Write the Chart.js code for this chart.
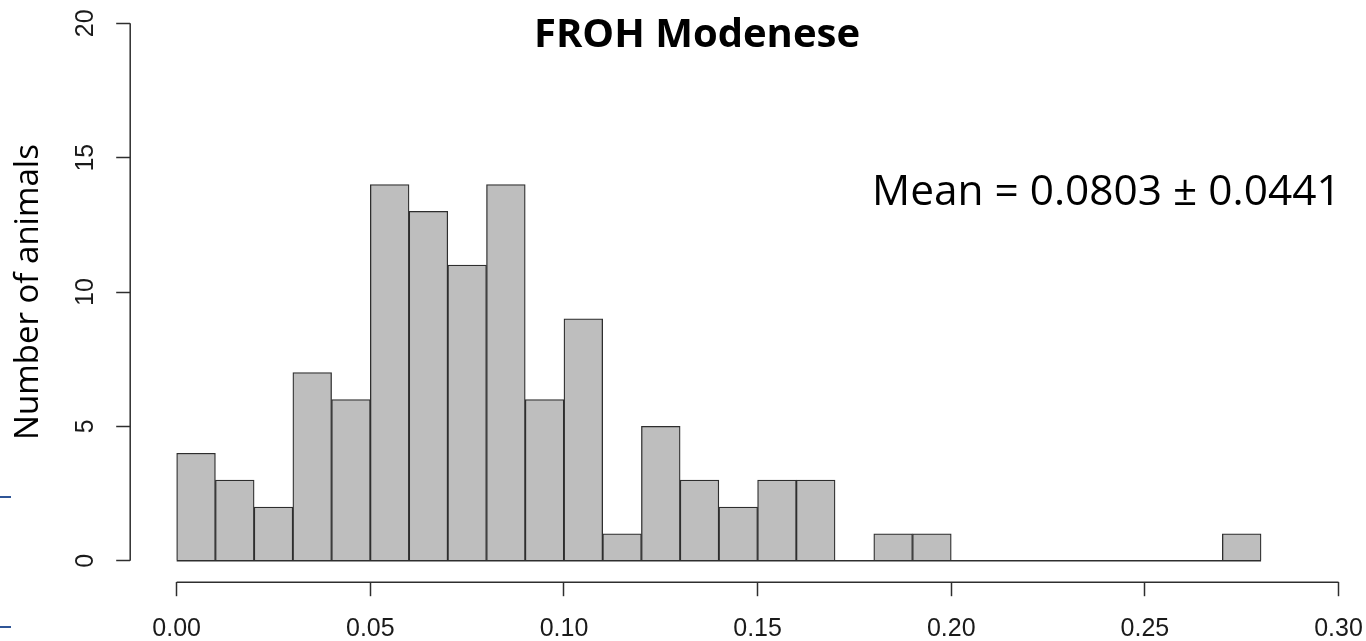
<!DOCTYPE html>
<html>
<head>
<meta charset="utf-8">
<title>FROH Modenese</title>
<script src="https://cdn.jsdelivr.net/npm/chart.js@4.4.1/dist/chart.umd.min.js"></script>
<style>
  html, body { margin: 0; padding: 0; background: #fff; overflow: hidden; }
  #wrap { width: 1385px; height: 641px; position: relative; }
</style>
</head>
<body>
<div id="wrap"><canvas id="frohHist"></canvas></div>
<script>
// histogram bins (left edge of each 0.01 wide class) and number of animals per bin
const binWidth = 0.01;
const binStarts = [0.00, 0.01, 0.02, 0.03, 0.04, 0.05, 0.06, 0.07, 0.08, 0.09,
                   0.10, 0.11, 0.12, 0.13, 0.14, 0.15, 0.16, 0.17, 0.18, 0.19,
                   0.20, 0.21, 0.22, 0.23, 0.24, 0.25, 0.26, 0.27];
const counts = [4, 3, 2, 7, 6, 14, 13, 11, 14, 6,
                9, 1, 5, 3, 2, 3, 3, 0, 1, 1,
                0, 0, 0, 0, 0, 0, 0, 1];

const xTicks = [0.00, 0.05, 0.10, 0.15, 0.20, 0.25, 0.30];
const yTicks = [0, 5, 10, 15, 20];

const meanFroh = 0.0803;
const sdFroh = 0.0441;

const axisColor = "#2e2e2e";
const textColor = "#1a1a1a";

const barData = binStarts.map((s, i) => ({ x: s + binWidth / 2, y: counts[i] }));

// R style axes: line only across the tick range, plus rotated y labels and the texts
const rAxesPlugin = {
  id: "rAxes",
  afterDraw(chart) {
    const ctx = chart.ctx;
    const xs = chart.scales.x;
    const ys = chart.scales.y;
    const area = chart.chartArea;

    ctx.save();
    ctx.strokeStyle = axisColor;
    ctx.lineWidth = 1.5;

    // x axis
    ctx.beginPath();
    ctx.moveTo(xs.getPixelForValue(xTicks[0]), area.bottom);
    ctx.lineTo(xs.getPixelForValue(xTicks[xTicks.length - 1]), area.bottom);
    ctx.stroke();

    // y axis
    ctx.beginPath();
    ctx.moveTo(area.left, ys.getPixelForValue(yTicks[0]));
    ctx.lineTo(area.left, ys.getPixelForValue(yTicks[yTicks.length - 1]));
    ctx.stroke();

    // bottom edge of the histogram, also under the empty classes
    const last = binStarts[binStarts.length - 1] + binWidth;
    ctx.beginPath();
    ctx.moveTo(xs.getPixelForValue(binStarts[0]), ys.getPixelForValue(0));
    ctx.lineTo(xs.getPixelForValue(last), ys.getPixelForValue(0));
    ctx.stroke();

    // y tick labels, parallel to the axis
    ctx.fillStyle = textColor;
    ctx.font = '25px "Liberation Sans", Arial, sans-serif';
    ctx.textAlign = "center";
    ctx.textBaseline = "middle";
    yTicks.forEach(v => {
      ctx.save();
      ctx.translate(86, ys.getPixelForValue(v));
      ctx.rotate(-Math.PI / 2);
      ctx.fillText(String(v), 0, 0);
      ctx.restore();
    });

    // title
    ctx.fillStyle = "#000";
    ctx.textBaseline = "alphabetic";
    ctx.font = 'bold 40px "Open Sans", sans-serif';
    ctx.fillText("FROH Modenese", 697, 47);

    // mean and sd
    ctx.textAlign = "left";
    ctx.font = '42.4px "Open Sans", sans-serif';
    ctx.fillText("Mean = " + meanFroh.toFixed(4) + " \u00b1 " + sdFroh.toFixed(4), 872, 205);

    // slide edge marks
    ctx.strokeStyle = "#2f5597";
    ctx.lineWidth = 2;
    [497, 627].forEach(y => {
      ctx.beginPath();
      ctx.moveTo(0, y);
      ctx.lineTo(11, y);
      ctx.stroke();
    });
    ctx.restore();
  }
};

new Chart(document.getElementById("frohHist"), {
  type: "bar",
  data: {
    datasets: [{
      label: "FROH",
      data: barData,
      backgroundColor: "#bebebe",
      borderColor: axisColor,
      borderWidth: 1.3,
      borderSkipped: "start",
      barPercentage: 1,
      categoryPercentage: 1
    }]
  },
  options: {
    responsive: true,
    maintainAspectRatio: false,
    animation: false,
    layout: { padding: { top: 1.8, left: 0, right: 0, bottom: 0 } },
    plugins: {
      legend: { display: false },
      tooltip: { enabled: false }
    },
    scales: {
      x: {
        type: "linear",
        min: -0.012,
        max: 0.312,
        offset: false,
        afterBuildTicks: axis => { axis.ticks = xTicks.map(v => ({ value: v })); },
        afterFit: axis => { axis.height = 58.8; },
        border: { display: false },
        grid: {
          offset: false,
          drawOnChartArea: false,
          drawTicks: true,
          tickLength: 14,
          tickColor: axisColor,
          tickWidth: 1.5
        },
        ticks: {
          autoSkip: false,
          maxRotation: 0,
          padding: 18,
          color: textColor,
          font: { family: '"Liberation Sans", Arial, sans-serif', size: 25 },
          callback: v => v.toFixed(2)
        }
      },
      y: {
        min: -0.8,
        max: 20.8,
        afterBuildTicks: axis => { axis.ticks = yTicks.map(v => ({ value: v })); },
        afterFit: axis => { axis.width = 130.2; },
        border: { display: false },
        grid: {
          drawOnChartArea: false,
          drawTicks: true,
          tickLength: 14,
          tickColor: axisColor,
          tickWidth: 1.5
        },
        ticks: { display: false },
        title: {
          display: true,
          text: "Number of animals",
          color: "#000",
          font: { family: '"Open Sans", sans-serif', size: 33 },
          padding: { top: 9, bottom: 0 }
        }
      }
    }
  },
  plugins: [rAxesPlugin]
});
</script>
</body>
</html>
